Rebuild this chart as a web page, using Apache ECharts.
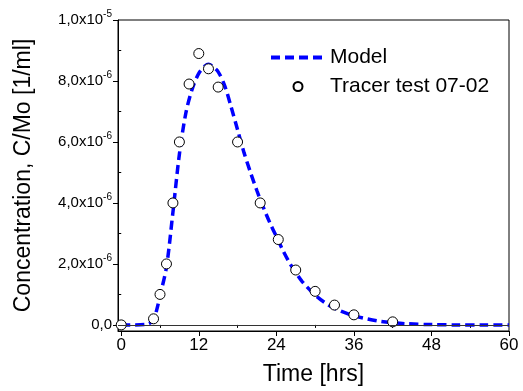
<!DOCTYPE html>
<html>
<head>
<meta charset="utf-8">
<script src="https://cdn.jsdelivr.net/npm/echarts@6/dist/echarts.min.js"></script>
<style>html,body{margin:0;padding:0;background:#fff}#c{width:523px;height:391px}</style>
</head>
<body>
<div id="c"></div>
<script>
// Model curve (time in hrs, concentration in units of 1e-6 1/ml)
var modelTime = [0,2,4,5,5.5,6,7,8,9,10,11,12,13,13.5,14,15,16,17,18,19,20,21,22,23,24,25,26,27,28,30,32,34,36,38,40,42,44,48,52,56,60];
var modelConc = [0,0,0.02,0.15,0.5,0.95,1.9,3.7,5.6,6.95,7.75,8.25,8.5,8.55,8.5,8.3,7.85,7.15,6.4,5.65,5.0,4.4,3.85,3.35,2.9,2.45,2.05,1.72,1.42,0.98,0.66,0.45,0.3,0.2,0.12,0.07,0.04,0.01,0,0,0];
// Tracer test 07-02 measurements
var testTime = [0,5,6,7,8,9,10.5,12,13.5,15,18,21.5,24.3,27,30,33,36,42];
var testConc = [0,0.2,1.0,2.0,4.0,6.0,7.9,8.9,8.4,7.8,6.0,4.0,2.8,1.8,1.1,0.65,0.33,0.1];
// ticks
var xMajor = [0,12,24,36,48,60];
var xMinor = [6,18,30,42,54];
var yMajor = [0,2e-6,4e-6,6e-6,8e-6,1e-5];
var yMinor = [1e-6,3e-6,5e-6,7e-6,9e-6];
var SCALE = 1e-6;

var modelData = modelTime.map(function(t,i){return [t, modelConc[i]*SCALE];});
var testData = testTime.map(function(t,i){return [t, testConc[i]*SCALE];});

var FONT = 'Liberation Sans, Arial, sans-serif';
function yFmt(v){
  if (Math.abs(v) < 1e-12) return '{m|0,0}';
  var e = Math.floor(Math.log10(v) + 1e-9);
  var m = v / Math.pow(10, e);
  return '{m|' + m.toFixed(1).replace('.', ',') + 'x10}{s|' + e + '}';
}

var chart = echarts.init(document.getElementById('c'), null, {renderer:'canvas'});
chart.setOption({
  animation: false,
  backgroundColor: '#fff',
  textStyle: {fontFamily: FONT},
  grid: {left:118, right:14, top:20, bottom:54, show:true, borderColor:'#000', borderWidth:1, backgroundColor:'transparent'},
  legend: {
    orient:'vertical', left:264, top:42, itemWidth:54, itemHeight:9, itemGap:8,
    textStyle:{fontFamily:FONT, fontSize:21, color:'#000'},
    data:[
      {name:'Model', itemStyle:{color:'rgba(0,0,0,0)', borderColor:'rgba(0,0,0,0)', borderWidth:0},
       lineStyle:{width:4}},
      {name:'Tracer test 07-02'}
    ]
  },
  xAxis: [{
    type:'value', min:-0.5, max:60, gridIndex:0,
    name:'Time [hrs]', nameLocation:'middle', nameGap:32,
    nameTextStyle:{fontFamily:FONT, fontSize:23, color:'#000'},
    axisLine:{show:true, onZero:false, lineStyle:{color:'#000', width:1}},
    axisTick:{show:true, length:5, customValues:xMajor, lineStyle:{color:'#000'}},
    axisLabel:{customValues:xMajor, fontFamily:FONT, fontSize:17, color:'#000', margin:6},
    splitLine:{show:false}
  },{
    type:'value', min:-0.5, max:60, gridIndex:0, position:'bottom',
    axisLine:{show:false},
    axisTick:{show:true, length:3, customValues:xMinor, lineStyle:{color:'#000'}},
    axisLabel:{show:false},
    splitLine:{show:false}
  }],
  yAxis: [{
    type:'value', min:-2e-7, max:1e-5,
    name:'Concentration, C/Mo [1/ml]', nameLocation:'middle', nameGap:83, nameRotate:90,
    nameTextStyle:{fontFamily:FONT, fontSize:23, color:'#000'},
    axisLine:{show:true, onZero:false, lineStyle:{color:'#000', width:1}},
    axisTick:{show:true, length:5, customValues:yMajor, lineStyle:{color:'#000'}},
    axisLabel:{customValues:yMajor, formatter:yFmt, margin:6, color:'#000',
      rich:{
        m:{fontFamily:FONT, fontSize:15, color:'#000'},
        s:{fontFamily:FONT, fontSize:10, color:'#000', padding:[0,0,12,0]}
      }},
    splitLine:{show:false}
  },{
    type:'value', min:-2e-7, max:1e-5, position:'left',
    axisLine:{show:false},
    axisTick:{show:true, length:3, customValues:yMinor, lineStyle:{color:'#000'}},
    axisLabel:{show:false},
    splitLine:{show:false}
  }],
  series: [{
    name:'Model', type:'line', xAxisIndex:0, yAxisIndex:0,
    data: modelData, showSymbol:false, symbol:'none', smooth:0.3,
    lineStyle:{color:'#0000ff', width:3.5, type:[9,5], cap:'butt'},
    itemStyle:{color:'#0000ff'},
    z:3
  },{
    name:'Tracer test 07-02', type:'scatter', xAxisIndex:0, yAxisIndex:0,
    data: testData, symbol:'circle', symbolSize:10,
    itemStyle:{color:'#fff', borderColor:'#000', borderWidth:1, opacity:1},
    z:4,
    markLine:{silent:true, symbol:'none', label:{show:false},
      lineStyle:{color:'#333', width:1, type:'solid'},
      data:[{yAxis:0}]}
  }]
});
</script>
</body>
</html>
